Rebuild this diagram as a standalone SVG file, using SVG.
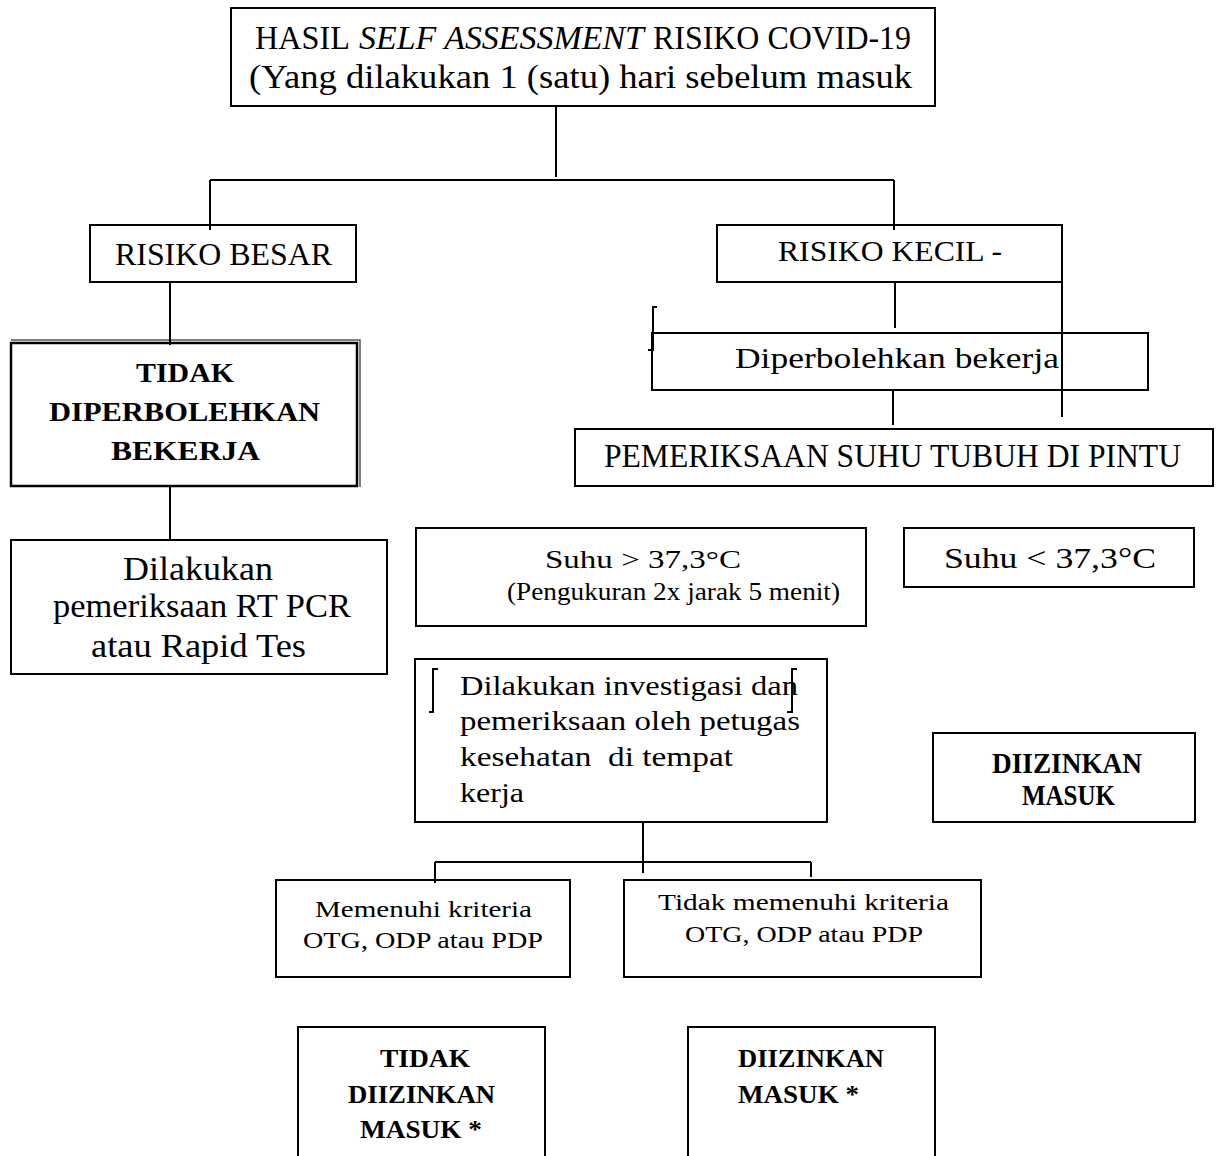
<svg xmlns="http://www.w3.org/2000/svg" width="1223" height="1156" viewBox="0 0 1223 1156">
<style>
.box{fill:#fff;stroke:#000;stroke-width:2}
.ln{stroke:#000;stroke-width:2;fill:none}
.t{font-family:"Liberation Serif","Times New Roman",serif;fill:#000}
.b{font-weight:bold}
</style>
<rect width="1223" height="1156" fill="#fff"/>
<g id="n-top">
<rect class="box" x="231" y="8" width="704" height="98"/>
<text class="t" font-size="33" x="255" y="49" textLength="95" lengthAdjust="spacingAndGlyphs">HASIL</text>
<text class="t" font-size="33" font-style="italic" x="359" y="49" textLength="285" lengthAdjust="spacingAndGlyphs">SELF ASSESSMENT</text>
<text class="t" font-size="33" x="653" y="49" textLength="258" lengthAdjust="spacingAndGlyphs">RISIKO COVID-19</text>
<text class="t" font-size="33" x="249" y="88" textLength="663" lengthAdjust="spacingAndGlyphs">(Yang dilakukan 1 (satu) hari sebelum masuk</text>
</g>
<g id="n-besar">
<rect class="box" x="90" y="225" width="266" height="57"/>
<text class="t" font-size="31" x="115" y="265" textLength="217" lengthAdjust="spacingAndGlyphs">RISIKO BESAR</text>
</g>
<g id="n-kecil">
<rect class="box" x="717" y="225" width="345" height="57"/>
<text class="t" font-size="29" x="778" y="261" textLength="224" lengthAdjust="spacingAndGlyphs">RISIKO KECIL -</text>
</g>
<g id="n-tidak-kerja">
<path d="M11,340 H360 V487" fill="none" stroke="#555" stroke-width="1.5"/>
<rect x="11" y="343" width="346" height="143" fill="#fff" stroke="#000" stroke-width="2.5"/>
<text class="t b" font-size="28" x="136" y="382" textLength="98" lengthAdjust="spacingAndGlyphs">TIDAK</text>
<text class="t b" font-size="28" x="49" y="421" textLength="271" lengthAdjust="spacingAndGlyphs">DIPERBOLEHKAN</text>
<text class="t b" font-size="28" x="111" y="460" textLength="149" lengthAdjust="spacingAndGlyphs">BEKERJA</text>
</g>
<g id="n-rtpcr">
<rect class="box" x="11" y="540" width="376" height="134"/>
<text class="t" font-size="34" x="123" y="580" textLength="150" lengthAdjust="spacingAndGlyphs">Dilakukan</text>
<text class="t" font-size="34" x="53" y="617" textLength="298" lengthAdjust="spacingAndGlyphs">pemeriksaan RT PCR</text>
<text class="t" font-size="34" x="91" y="657" textLength="215" lengthAdjust="spacingAndGlyphs">atau Rapid Tes</text>
</g>
<g id="n-boleh">
<rect class="box" x="652" y="333" width="496" height="57"/>
<text class="t" font-size="29" x="735" y="368" textLength="324" lengthAdjust="spacingAndGlyphs">Diperbolehkan bekerja</text>
</g>
<g id="n-pemeriksaan">
<rect class="box" x="575" y="429" width="638" height="57"/>
<text class="t" font-size="34" x="604" y="467" textLength="577" lengthAdjust="spacingAndGlyphs">PEMERIKSAAN SUHU TUBUH DI PINTU</text>
</g>
<g id="n-suhu-tinggi">
<rect class="box" x="416" y="528" width="450" height="98"/>
<text class="t" font-size="26" x="545" y="568" textLength="196" lengthAdjust="spacingAndGlyphs">Suhu &gt; 37,3°C</text>
<text class="t" font-size="26" x="507" y="600" textLength="333" lengthAdjust="spacingAndGlyphs">(Pengukuran 2x jarak 5 menit)</text>
</g>
<g id="n-suhu-rendah">
<rect class="box" x="904" y="528" width="290" height="59"/>
<text class="t" font-size="30" x="944" y="568" textLength="212" lengthAdjust="spacingAndGlyphs">Suhu &lt; 37,3°C</text>
</g>
<g id="n-investigasi">
<rect class="box" x="415" y="659" width="412" height="163"/>
<text class="t" font-size="27" x="460" y="695" textLength="338" lengthAdjust="spacingAndGlyphs">Dilakukan investigasi dan</text>
<text class="t" font-size="27" x="460" y="730" textLength="340" lengthAdjust="spacingAndGlyphs">pemeriksaan oleh petugas</text>
<text class="t" font-size="27" x="460" y="766" textLength="273" lengthAdjust="spacingAndGlyphs" xml:space="preserve">kesehatan  di tempat</text>
<text class="t" font-size="27" x="460" y="802" textLength="64" lengthAdjust="spacingAndGlyphs">kerja</text>
</g>
<g id="n-diizinkan">
<rect class="box" x="933" y="733" width="262" height="89"/>
<text class="t b" font-size="29" x="992" y="773" textLength="150" lengthAdjust="spacingAndGlyphs">DIIZINKAN</text>
<text class="t b" font-size="29" x="1022" y="805" textLength="93" lengthAdjust="spacingAndGlyphs">MASUK</text>
</g>
<g id="n-memenuhi">
<rect class="box" x="276" y="880" width="294" height="97"/>
<text class="t" font-size="23" x="315" y="917" textLength="217" lengthAdjust="spacingAndGlyphs">Memenuhi kriteria</text>
<text class="t" font-size="23" x="303" y="948" textLength="240" lengthAdjust="spacingAndGlyphs">OTG, ODP atau PDP</text>
</g>
<g id="n-tidak-memenuhi">
<rect class="box" x="624" y="880" width="357" height="97"/>
<text class="t" font-size="23" x="658" y="910" textLength="291" lengthAdjust="spacingAndGlyphs">Tidak memenuhi kriteria</text>
<text class="t" font-size="23" x="685" y="942" textLength="238" lengthAdjust="spacingAndGlyphs">OTG, ODP atau PDP</text>
</g>
<g id="n-tidak-diizinkan">
<rect class="box" x="298" y="1027" width="247" height="140"/>
<text class="t b" font-size="26" x="380" y="1067" textLength="90" lengthAdjust="spacingAndGlyphs">TIDAK</text>
<text class="t b" font-size="26" x="348" y="1103" textLength="147" lengthAdjust="spacingAndGlyphs">DIIZINKAN</text>
<text class="t b" font-size="26" x="360" y="1138" textLength="122" lengthAdjust="spacingAndGlyphs">MASUK *</text>
</g>
<g id="n-diizinkan-bintang">
<rect class="box" x="688" y="1027" width="247" height="140"/>
<text class="t b" font-size="26" x="738" y="1067" textLength="146" lengthAdjust="spacingAndGlyphs">DIIZINKAN</text>
<text class="t b" font-size="26" x="738" y="1103" textLength="121" lengthAdjust="spacingAndGlyphs">MASUK *</text>
</g>
<g id="connectors">
<path class="ln" d="M556,106 V177 M210,180 H894 M210,180 V230 M894,180 V230"/>
<path class="ln" d="M170,282 V345 M170,487 V540"/>
<path class="ln" d="M895,282 V328 M1062,270 V417 M893,390 V425"/>
<path class="ln" d="M643,822 V873 M435,862 H811 M435,862 V883 M811,862 V877"/>
</g>
<g id="marks">
<path class="ln" d="M657,307 H653 V350 H648"/>
<path class="ln" stroke-width="1.5" d="M438,669 H433 V712 H429"/>
<path class="ln" stroke-width="1.5" d="M797,669 H792 V712 H787"/>
</g>
</svg>
